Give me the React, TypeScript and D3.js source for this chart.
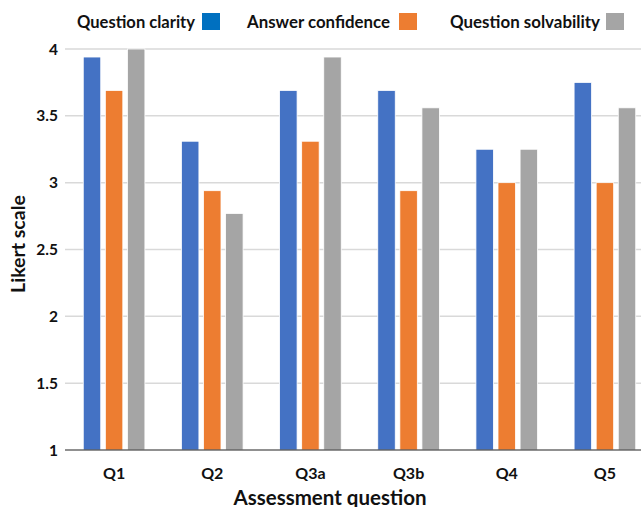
import React from "react";
import * as d3 from "d3";

const questions = ["Q1", "Q2", "Q3a", "Q3b", "Q4", "Q5"];
const seriesNames = ["Question clarity", "Answer confidence", "Question solvability"];
const clarity = [3.94, 3.31, 3.69, 3.69, 3.25, 3.75];
const confidence = [3.69, 2.94, 3.31, 2.94, 3.0, 3.0];
const solvability = [4.0, 2.77, 3.94, 3.56, 3.25, 3.56];
const yTicks = [1, 1.5, 2, 2.5, 3, 3.5, 4];

const barColors = ["#4472C4", "#ED7D31", "#A5A5A5"];
const swatchColors = ["#0070C0", "#ED7D31", "#A5A5A5"];
const FONT = "Lato, 'Open Sans', sans-serif";

export default function App() {
  const width = 641;
  const height = 507;
  const left = 65;
  const right = 654;
  const top = 49;
  const bottom = 450;

  const values = [clarity, confidence, solvability];

  const x0 = d3.scaleBand<string>().domain(questions).range([left, right]).paddingInner(0.372).paddingOuter(0.186);
  const x1 = d3.scaleBand<string>().domain(seriesNames).range([0, x0.bandwidth()]).paddingInner(0.208);
  const y = d3.scaleLinear().domain([1, 4]).range([bottom, top]);

  // legend layout: text start, text length, swatch x
  const legendItems = [
    { text: seriesNames[0], tx: 77, tl: 118, sx: 202 },
    { text: seriesNames[1], tx: 247, tl: 143, sx: 399 },
    { text: seriesNames[2], tx: 450, tl: 150, sx: 606 },
  ];

  return (
    <svg width={width} height={height} style={{ position: "absolute", left: 0, top: 0 }} fontFamily={FONT}>
      <rect width={width} height={height} fill="#fff" />
      {yTicks.map((t) => (
        <g key={t}>
          {t > 1 && <line x1={left} x2={width} y1={y(t)} y2={y(t)} stroke="#D9D9D9" strokeWidth={1.5} />}
          <text x={58} y={y(t)} dy="0.36em" textAnchor="end" fontSize={15.5} fontWeight={700} fill="#111">
            {t}
          </text>
        </g>
      ))}
      {questions.map((q, i) => (
        <g key={q} transform={`translate(${x0(q)},0)`}>
          {seriesNames.map((s, j) => (
            <rect
              key={s}
              x={x1(s)}
              y={y(values[j][i])}
              width={x1.bandwidth()}
              height={bottom - y(values[j][i])}
              fill={barColors[j]}
              stroke="#fff"
              strokeWidth={0.8}
            />
          ))}
          <text x={x0.bandwidth() / 2} y={479} textAnchor="middle" fontSize={16} fontWeight={700} fill="#111">
            {q}
          </text>
        </g>
      ))}
      <line x1={left} x2={width} y1={bottom} y2={bottom} stroke="#222" strokeWidth={1.2} />
      <text
        transform={`translate(25,244) rotate(-90)`}
        textAnchor="middle"
        fontSize={19.5}
        fontWeight={700}
        fill="#111"
      >
        Likert scale
      </text>
      <text x={330} y={505} textAnchor="middle" fontSize={20.5} fontWeight={700} fill="#111">
        Assessment question
      </text>
      {legendItems.map((d, i) => (
        <g key={d.text}>
          <text
            x={d.tx}
            y={28}
            fontSize={16.5}
            fontWeight={700}
            fill="#111"
            textLength={d.tl}
            lengthAdjust="spacingAndGlyphs"
          >
            {d.text}
          </text>
          <rect x={d.sx} y={13} width={18} height={17} fill={swatchColors[i]} />
        </g>
      ))}
    </svg>
  );
}
